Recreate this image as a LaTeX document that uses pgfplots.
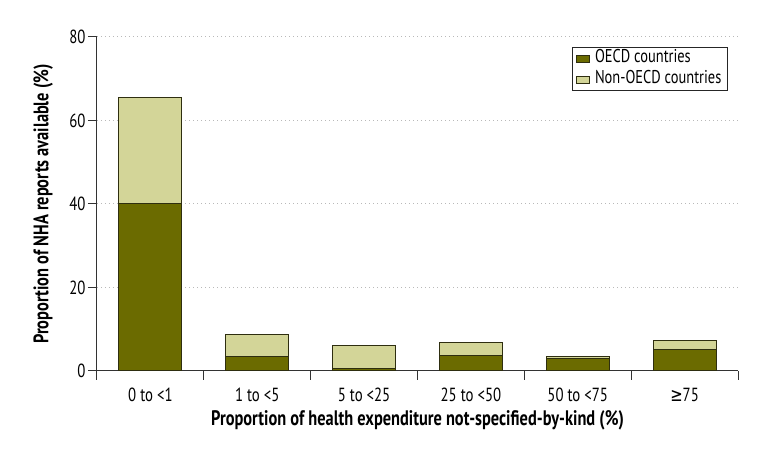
\documentclass[border=0pt]{standalone}
\usepackage{pgfplots}
\pgfplotsset{compat=1.18}
\usepackage{fontspec}
\setmainfont{PT Sans}[FakeStretch=0.78]
\newfontfamily\symfont{DejaVu Sans}[FakeStretch=0.78]
\definecolor{oecd}{HTML}{6B6B00}
\definecolor{nonoecd}{HTML}{D3D598}
\definecolor{edgec}{HTML}{2E2E10}
\begin{document}
\begin{tikzpicture}
\path[use as bounding box] (-97pt,-83pt) rectangle (674pt,371pt);
\begin{axis}[
  at={(0,0)}, anchor=south west,
  scale only axis, width=641pt, height=334pt,
  ybar stacked, bar width=63pt,
  xmin=-0.5, xmax=5.5, ymin=0, ymax=80,
  axis x line*=bottom, axis y line*=left,
  axis line style={-, draw=black!80, line width=1pt},
  xtick={0,...,5},
  xticklabels={0 to <1, 1 to <5, 5 to <25, 25 to <50, 50 to <75, {\symfont ≥}75},
  x tick style={draw=none},
  extra x ticks={-0.5,0.5,1.5,2.5,3.5,4.5,5.5},
  extra x tick labels={},
  extra x tick style={x tick style={draw=black!80, line width=1pt}, major tick length=9pt, tick align=outside, grid=none},
  ytick={0,20,40,60,80},
  y tick style={draw=black!80, line width=1pt},
  major tick length=9pt,
  tick align=outside,
  ymajorgrids,
  grid style={dash pattern=on 1pt off 3pt, gray!55, line width=1pt},
  /pgf/number format/assume math mode=true,
  tick label style={font=\fontsize{19}{21}\selectfont},
  yticklabel style={xshift=1pt},
  xticklabel style={anchor=base, yshift=-22pt},
  xlabel={\bfseries Proportion of health expenditure not-specified-by-kind (\%)},
  ylabel={\bfseries Proportion of NHA reports available (\%)},
  label style={font=\fontsize{21}{23}\selectfont},
  xlabel style={at={(axis description cs:0.5,-0.1617)}, anchor=base},
  ylabel style={at={(axis description cs:-0.0757,0.5)}, anchor=base},
  legend style={at={(0.984,0.97)}, anchor=north east, draw=black!85, line width=0.8pt,
    font=\fontsize{18.5}{19}\selectfont, cells={anchor=west}, inner xsep=4pt, inner ysep=0.5pt, row sep=0pt,
    nodes={text height=13.5pt, text depth=4.5pt, inner ysep=1.5pt, inner xsep=2pt}},
  legend image code/.code={\draw[#1, line width=0.8pt] (0pt,-3.5pt) rectangle (13pt,3.5pt); \path (16pt,0pt);},
]
\addplot[fill=oecd, draw=edgec, line width=1pt] coordinates {(0,40.2) (1,3.5) (2,0.5) (3,3.8) (4,2.9) (5,5.2)};
\addplot[fill=nonoecd, draw=edgec, line width=1pt] coordinates {(0,25.4) (1,5.3) (2,5.6) (3,3.1) (4,0.6) (5,2.2)};
\legend{OECD countries, Non-OECD countries}
\end{axis}
\end{tikzpicture}
\end{document}
